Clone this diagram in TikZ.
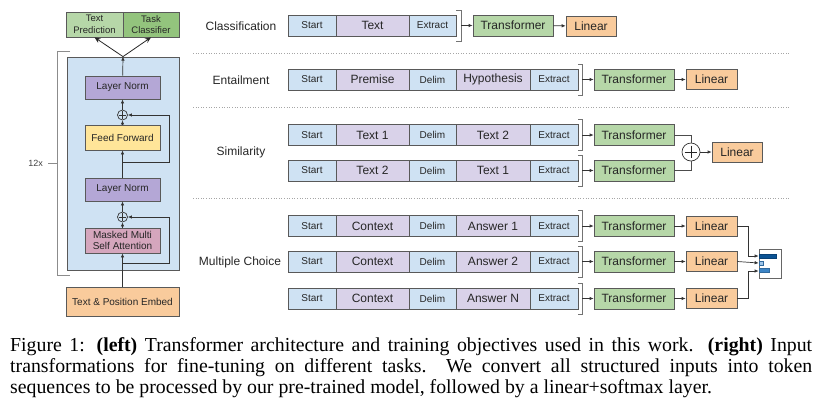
\documentclass[tikz,border=0pt]{standalone}
\usepackage{fontspec}
\setmainfont{Liberation Sans}
\newfontfamily\capfont{Liberation Serif}
\usetikzlibrary{arrows.meta,calc}

\definecolor{boxgray}{HTML}{595959}
\definecolor{tokblue}{HTML}{CFE2F3}
\definecolor{toklav}{HTML}{D9D2E9}
\definecolor{trfgreen}{HTML}{B6D7A8}
\definecolor{clsgreen}{HTML}{93C47D}
\definecolor{linorange}{HTML}{F9CB9C}
\definecolor{normpurple}{HTML}{B4A7D6}
\definecolor{ffyellow}{HTML}{FFE599}
\definecolor{attpink}{HTML}{D5A6BD}
\definecolor{barnavy}{HTML}{0B5394}
\definecolor{barlight}{HTML}{9FC5E8}
\definecolor{barmid}{HTML}{3D85C6}

\tikzset{
  box/.style={draw=boxgray, line width=0.7pt, inner sep=0pt, text=black!85, align=center},
  tok/.style={box, fill=tokblue, minimum width=48pt, minimum height=21pt, font=\fontsize{10}{12}\selectfont},
  txt/.style={box, fill=toklav, minimum height=21pt, font=\fontsize{12}{14}\selectfont},
  trf/.style={box, fill=trfgreen, minimum width=80pt, minimum height=21pt, font=\fontsize{12}{14}\selectfont},
  lin/.style={box, fill=linorange, minimum width=51pt, minimum height=20pt, font=\fontsize{12}{14}\selectfont},
  lyr/.style={box, minimum width=75pt, minimum height=23pt, font=\fontsize{10}{11.5}\selectfont},
  plus/.style={circle, draw=black!80, line width=0.7pt, minimum size=10pt, inner sep=0pt},
  arr/.style={draw=black!80, line width=0.7pt, -{Latex[length=4pt,width=3.5pt]}},
  brk/.style={draw=black!55, line width=0.8pt},
  sep/.style={draw=black!35, line width=0.6pt, dotted},
  task/.style={font=\fontsize{12}{14}\selectfont, text=black!85}
}

\begin{document}
\begin{tikzpicture}[x=1pt,y=-1pt]
  \useasboundingbox (0,0) rectangle (821,400);

  % left: decoder block
  \node[box, line width=0.8pt, fill=tokblue, minimum width=112pt, minimum height=213pt] (blk) at (123,163.5) {};
  \node[box, fill=trfgreen, minimum width=57pt, minimum height=25pt, font=\fontsize{9.5}{11.5}\selectfont] (tp) at (94.5,24.5) {Text\\Prediction};
  \node[box, fill=clsgreen, minimum width=56pt, minimum height=25pt, font=\fontsize{9.5}{11.5}\selectfont] (tc) at (151,24.5) {Task\\Classifier};
  \node[lyr, fill=normpurple] (ln2) at (122.5,87.5) {Layer Norm};
  \node[plus] (p2) at (122.5,115) {};
  \node[lyr, fill=ffyellow, minimum height=25pt] (ff) at (122.5,137.5) {Feed Forward};
  \node[lyr, fill=normpurple] (ln1) at (122.5,189.5) {Layer Norm};
  \node[plus] (p1) at (122.5,217) {};
  \node[lyr, fill=attpink, minimum height=25pt] (att) at (122.5,240.5) {Masked Multi\\Self Attention};
  \node[box, fill=linorange, minimum width=113pt, minimum height=29pt, font=\fontsize{10}{12}\selectfont] (emb) at (122.5,301.5) {Text \& Position Embed};

  \draw[black!80, line width=0.7pt, shorten <=1.5pt, shorten >=1.5pt] (p1.north) -- (p1.south);
  \draw[black!80, line width=0.7pt, shorten <=1.5pt, shorten >=1.5pt] (p1.west) -- (p1.east);
  \draw[black!80, line width=0.7pt, shorten <=1.5pt, shorten >=1.5pt] (p2.north) -- (p2.south);
  \draw[black!80, line width=0.7pt, shorten <=1.5pt, shorten >=1.5pt] (p2.west) -- (p2.east);

  \coordinate (r1) at (122.5,263);
  \coordinate (r2) at (122.5,162);
  \draw[arr] (emb) -- (att);
  \draw[arr] (r1) -- ++(46.5,0) |- (p1);
  \draw[arr] (att) -- (p1);
  \draw[arr] (p1) -- (ln1);
  \draw[arr] (ln1) -- (ff);
  \draw[arr] (r2) -- ++(46.5,0) |- (p2);
  \draw[arr] (ff) -- (p2);
  \draw[arr] (p2) -- (ln2);
  \draw[arr] (ln2) -- (blk.north);
  \draw[draw=black!85, line width=0.8pt, -{Stealth[length=6pt,width=5pt]}] (blk.north) -- (tp.south);
  \draw[draw=black!85, line width=0.8pt, -{Stealth[length=6pt,width=5pt]}] (blk.north) -- (tc.south);

  % 12x bracket
  \draw[black!45, line width=1pt] (70,51) -- (57,51) -- (57,275) -- (70,275);
  \draw[black!45, line width=1pt] (48,163) -- (57,163);
  \node[anchor=east, inner sep=0pt, text=black!75, font=\fontsize{9}{11}\selectfont] (rep) at (43,163) {12x};

  % right: task labels and separators
  \node[task] (lcls) at (241,26) {Classification};
  \node[task] (lent) at (241,80) {Entailment};
  \node[task] (lsim) at (241,152) {Similarity};
  \node[task] (lmc) at (240,262) {Multiple Choice};
  \draw[sep] (193,53) -- (789,53);
  \draw[sep] (193,107) -- (789,107);
  \draw[sep] (193,198) -- (789,198);

  % classification
  \node[tok] (stc) at (312,25.5) {Start};
  \node[txt, minimum width=73pt] (ac) at (372.5,25.5) {Text};
  \node[tok, minimum width=47pt] (exc) at (432.5,25.5) {Extract};
  \draw[brk] ([shift={(0,-15.5)}]exc.east) -- ++(5,0) -- ++(0,31) -- ++(-5,0);
  \coordinate (bkc) at ([xshift=5pt]exc.east);
  \node[trf] (tfc) at (513,25.5) {Transformer};
  \node[lin, minimum width=50pt] (lc) at (591,26) {Linear};
  \draw[arr] (bkc) -- (tfc);
  \draw[arr] (tfc) -- (lc);

  % token rows
  \foreach \r/\yy/\ta/\tb in {e/79.5/Premise/Hypothesis, s1/135/Text 1/Text 2, s2/170.5/Text 2/Text 1,
      m1/226/Context/Answer 1, m2/261.5/Context/Answer 2, m3/298.5/Context/Answer N} {
    \node[tok] (st\r) at (312,\yy) {Start};
    \node[txt, minimum width=73pt] (a\r) at (372.5,\yy) {\ta};
    \node[tok, minimum width=47pt] (dl\r) at (432.5,\yy) {Delim};
    \node[txt, minimum width=74pt] (b\r) at (493,\yy) {\tb};
    \node[tok] (ex\r) at (554,\yy) {Extract};
    \draw[brk] ([shift={(0,-15.5)}]ex\r.east) -- ++(4,0) -- ++(0,31) -- ++(-4,0);
    \coordinate (bk\r) at ([xshift=4pt]ex\r.east);
    \node[trf] (tf\r) at (634,\yy) {Transformer};
    \draw[arr] (bk\r) -- (tf\r);
  }

  % entailment head
  \node[lin] (le) at (711.5,79.5) {Linear};
  \draw[arr] (tfe) -- (le);

  % similarity head
  \node[circle, draw=black!80, line width=0.7pt, fill=white, minimum size=18pt, inner sep=0pt] (pl) at (691,152) {};
  \draw[black!85, line width=0.9pt, shorten <=3pt, shorten >=3pt] (pl.north) -- (pl.south);
  \draw[black!85, line width=0.9pt, shorten <=3pt, shorten >=3pt] (pl.west) -- (pl.east);
  \node[lin, minimum width=50pt] (ls) at (737,152) {Linear};
  \draw[black!70, line width=0.7pt] (tfs1.east) -| (pl);
  \draw[black!70, line width=0.7pt] (tfs2.east) -| (pl);
  \draw[arr] (pl) -- (ls);

  % multiple choice heads
  \node[lin] (lm1) at (711.5,226) {Linear};
  \node[lin] (lm2) at (711.5,261.5) {Linear};
  \node[lin] (lm3) at (711.5,298.5) {Linear};
  \draw[arr] (tfm1) -- (lm1);
  \draw[arr] (tfm2) -- (lm2);
  \draw[arr] (tfm3) -- (lm3);

  \node[draw=black!60, line width=0.7pt, fill=white, minimum width=22pt, minimum height=29pt, inner sep=0pt] (bc) at (770,263.5) {};
  \draw[barnavy!80!black, fill=barnavy, line width=0.5pt] (759,254) rectangle (776,258);
  \draw[barmid!80!black, fill=barlight, line width=0.5pt] (759,261) rectangle (763,265);
  \draw[barmid!80!black, fill=barmid, line width=0.5pt] (759,268.5) rectangle (769,272);
  \coordinate (in1) at ([yshift=7.5pt]bc.west);
  \coordinate (in2) at ([yshift=0.5pt]bc.west);
  \coordinate (in3) at ([yshift=-7.5pt]bc.west);
  \draw[arr] (lm1.east) -- ++(11,0) |- (in1);
  \draw[arr] (lm2.east) -- (in2);
  \draw[arr] (lm3.east) -- ++(11,0) |- (in3);

  % caption
  \node[anchor=north west, text width=802pt, align=justify, inner sep=0pt,
        font=\capfont\fontsize{19.8}{21}\selectfont] (cap) at (10,337)
    {Figure 1: \textbf{(left)} Transformer architecture and training objectives used in this work. \textbf{(right)} Input\linebreak
     transformations for fine-tuning on different tasks.\ \ We convert all structured inputs into token\linebreak
     sequences to be processed by our pre-trained model, followed by a linear+softmax layer.};
\end{tikzpicture}
\end{document}
